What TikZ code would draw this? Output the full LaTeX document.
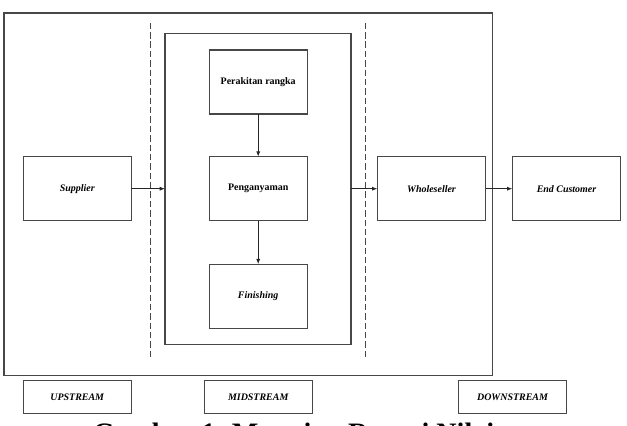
\documentclass[tikz,border=0pt]{standalone}
\usepackage{fontspec}
\setmainfont{Liberation Serif}
\usetikzlibrary{arrows.meta,positioning}
\def\BlokW{2.94cm}
\def\BlokH{1.92cm}
\def\LebarW{3.25cm}
\def\PitaH{0.98cm}

\begin{document}
\begin{tikzpicture}[x=0.03cm,y=-0.03cm,
	garis/.style={draw=black!72,line width=0.9pt},
	blok/.style={garis,minimum width=\BlokW,minimum height=\BlokH,inner sep=0pt,outer sep=0pt,font=\fontsize{8.5}{10}\selectfont\bfseries},
	lebar/.style={blok,minimum width=\LebarW},
	miring/.style={font=\fontsize{8.5}{10}\selectfont\bfseries\itshape},
	pita/.style={lebar,miring,minimum height=\PitaH},
	panah/.style={draw=black!85,line width=0.8pt,-{Latex[length=4.5pt,width=3.5pt]}},
	batas/.style={garis,dash pattern=on 5.5pt off 2.5pt}]
	\useasboundingbox (0,0) rectangle (627,425);
	\clip (0,0) rectangle (627,425);
	% frames
	\node[garis,minimum width=14.66cm,minimum height=10.88cm,inner sep=0pt,outer sep=0pt] (rantai) at (248.35,194.35) {};
	\node[garis,minimum width=5.58cm,minimum height=9.33cm,inner sep=0pt,outer sep=0pt] (tengah) at (258,188.8) {};
	% 
	\coordinate (batas1a) at (150.3,22.7);
	\coordinate (batas1b) at (150.3,360);
	\coordinate (batas2a) at (365.7,22.7);
	\coordinate (batas2b) at (365.7,360);
	\draw[batas] (batas1a) -- (batas1b);
	\draw[batas] (batas2a) -- (batas2b);
	% midstream process
	\node[blok] (rangka) at (258.2,82) {Perakitan rangka};
	\node[blok] (anyam) at (258.2,188.7) {Penganyaman};
	\node[blok,miring] (finishing) at (258.2,296.2) {Finishing};
	% chain
	\node[lebar,miring] (supplier) at (77.2,188.7) {Supplier};
	\node[lebar,miring] (wholeseller) at (431.5,188.7) {Wholeseller};
	\node[lebar,miring] (customer) at (566.5,188.7) {End Customer};
	% stream labels
	\node[pita] (upstream) at (77.2,397.2) {UPSTREAM};
	\node[pita] (midstream) at (258.2,397.2) {MIDSTREAM};
	\node[pita] (downstream) at (512.5,397.2) {DOWNSTREAM};
	% 
	\draw[panah] (rangka) -- (anyam);
	\draw[panah] (anyam) -- (finishing);
	\draw[panah] (supplier.east) -- (supplier.east -| tengah.west);
	\draw[panah] (tengah.east |- wholeseller.west) -- (wholeseller.west);
	\draw[panah] (wholeseller) -- (customer);
	% caption, cut off at the bottom as in the page
	\node[anchor=base,inner sep=0pt,font=\fontsize{24}{28}\selectfont\bfseries] (judul) at (293.5,442) {Gambar 1. Mapping Rantai Nilai};
\end{tikzpicture}
\end{document}
